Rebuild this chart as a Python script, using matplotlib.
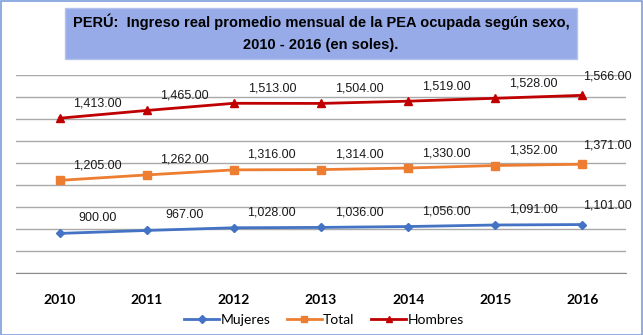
import numpy as np
import matplotlib.pyplot as plt
from matplotlib.patches import Rectangle

years = ['2010', '2011', '2012', '2013', '2014', '2015', '2016']
mujeres = [900, 967, 1028, 1036, 1056, 1091, 1101]
total = [1205, 1262, 1316, 1314, 1330, 1352, 1371]
hombres = [1413, 1465, 1513, 1504, 1519, 1528, 1566]

series_names = ['Mujeres', 'Total', 'Hombres']
series_vals = [mujeres, total, hombres]

W, H = 643, 335
fig = plt.figure(figsize=(W / 100, H / 100), dpi=100)

# outer border + title box
fig.patches.append(Rectangle((0.5 / W, 0.5 / H), 1 - 1.5 / W, 1 - 1.5 / H,
                             transform=fig.transFigure, fill=False,
                             edgecolor='#7c9ddc', lw=1.2))
fig.patches.append(Rectangle((65 / W, 1 - 59 / H), 512 / W, 51 / H,
                             transform=fig.transFigure, facecolor='#97abe8',
                             edgecolor='#b3c3ee', lw=1))
title_font = ['Liberation Sans', 'DejaVu Sans']
fig.text(321 / W, 1 - 22 / H,
         'PERÚ:  Ingreso real promedio mensual de la PEA ocupada según sexo,',
         ha='center', va='center', fontsize=10.5, fontweight='bold', family=title_font)
fig.text(321 / W, 1 - 45 / H, '2010 - 2016 (en soles).',
         ha='center', va='center', fontsize=10.5, fontweight='bold', family=title_font)

ax = fig.add_axes([16 / W, 1 - 273 / H, 610 / W, 198 / H])

x = np.arange(len(years))
stacked = np.cumsum(np.array(series_vals, dtype=float), axis=0)  # stacked line chart

styles = {
    'Mujeres': dict(color='#4472c4', marker='D', ms=4.5),
    'Total': dict(color='#ed7d31', marker='s', ms=5.5),
    'Hombres': dict(color='#c00000', marker='^', ms=6),
}

for name, vals, ys in zip(series_names, series_vals, stacked):
    st = styles[name]
    ax.plot(x, ys, color=st['color'], lw=2, marker=st['marker'], ms=st['ms'],
            mec=st['color'], mfc=st['color'], label=name, zorder=3)
    for i, (xi, yi, v) in enumerate(zip(x, ys, vals)):
        dx, dy = (25, 19) if i == len(x) - 1 else (38, 15)
        ax.annotate(f'{v:,.2f}', (xi, yi), xytext=(dx, dy), textcoords='offset pixels',
                    ha='center', va='center', fontsize=9, family='Liberation Sans',
                    color='#1a1a1a')

ax.set_xlim(-0.5, len(years) - 0.5)
ax.set_ylim(0, 4500)
ax.set_yticks(np.arange(0, 4501, 500))
ax.yaxis.grid(True, color='#a9a9a9', lw=1)
ax.set_axisbelow(True)
ax.tick_params(axis='y', left=False, labelleft=False)
ax.set_xticks(x)
ax.set_xticklabels(years, fontsize=10, fontweight='bold', family='Lato')
ax.tick_params(axis='x', length=0, pad=15)
for s in ['left', 'right', 'top']:
    ax.spines[s].set_visible(False)
ax.spines['bottom'].set_color('#8c8c8c')

fig.legend(loc='center', bbox_to_anchor=(324 / W, 1 - 320 / H), ncol=3, frameon=False,
           prop={'family': 'Lato', 'size': 10}, handlelength=2.5, handletextpad=0.1,
           columnspacing=1.2, borderaxespad=0, markerscale=0.8)

fig.savefig('out.png', dpi=100)
